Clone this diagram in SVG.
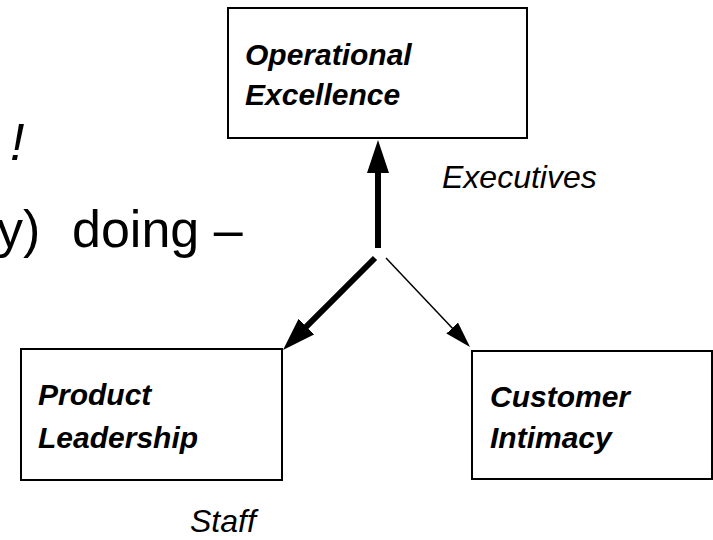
<svg xmlns="http://www.w3.org/2000/svg" width="713" height="540" viewBox="0 0 713 540">
<style>
.bg{font-family:"Liberation Sans",Arial,sans-serif;font-size:52px;fill:#000}
.box{fill:#fff;stroke:#000;stroke-width:2}
.lbl{font-family:"Liberation Sans",Arial,sans-serif;font-size:30px;font-weight:bold;font-style:italic;fill:#000}
.role{font-family:"Liberation Sans",Arial,sans-serif;font-size:32px;font-style:italic;fill:#000}
.thick{stroke:#000;stroke-width:6;fill:none}
.thin{stroke:#000;stroke-width:1.5;fill:none}
</style>
<defs>
<marker id="headThick" markerUnits="userSpaceOnUse" markerWidth="33" markerHeight="22" refX="23" refY="11" orient="auto">
<path d="M0,0 L33,11 L0,22 z" fill="#000"/>
</marker>
<marker id="headThin" markerUnits="userSpaceOnUse" markerWidth="26" markerHeight="16" refX="20" refY="8" orient="auto">
<path d="M0,0 L26,8 L0,16 z" fill="#000"/>
</marker>
</defs>
<g id="background-text">
<text class="bg" y="160" font-style="italic"><tspan x="-26">s</tspan><tspan x="10">!</tspan></text>
<text class="bg" y="247"><tspan x="-3">y) </tspan><tspan x="72">doing –</tspan></text>
</g>
<g id="operational-excellence">
<rect class="box" x="228" y="8" width="299" height="130"/>
<text class="lbl" x="245" y="65">Operational</text>
<text class="lbl" x="245" y="105">Excellence</text>
</g>
<g id="product-leadership">
<rect class="box" x="21" y="349" width="261" height="131"/>
<text class="lbl" x="38" y="405">Product</text>
<text class="lbl" x="38" y="448">Leadership</text>
</g>
<g id="customer-intimacy">
<rect class="box" x="472" y="351" width="240" height="128"/>
<text class="lbl" x="490" y="407">Customer</text>
<text class="lbl" x="490" y="448">Intimacy</text>
</g>
<g id="connectors">
<line class="thick" x1="378" y1="248" x2="378" y2="150" marker-end="url(#headThick)"/>
<line class="thick" x1="375" y1="258" x2="290.1" y2="342.9" marker-end="url(#headThick)"/>
<line class="thin" x1="386" y1="258" x2="465.9" y2="342.6" marker-end="url(#headThin)"/>
</g>
<g id="labels">
<text class="role" x="442" y="188">Executives</text>
<text class="role" x="190" y="532">Staff</text>
</g>
</svg>
